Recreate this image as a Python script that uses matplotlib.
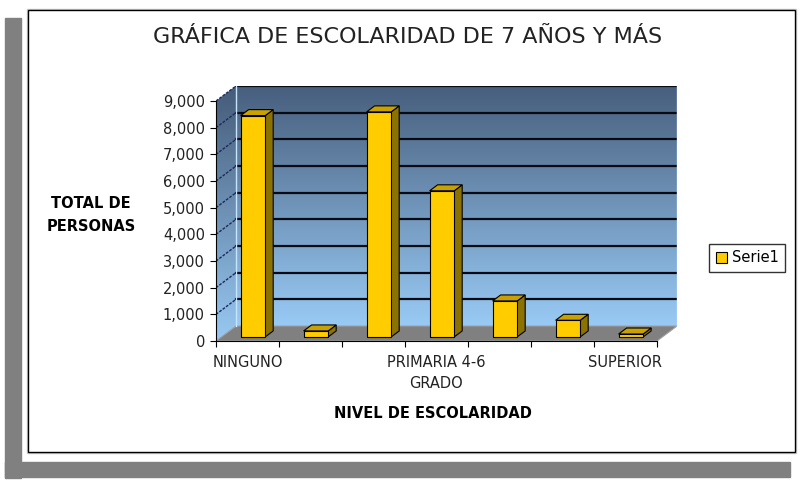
import numpy as np
import matplotlib.pyplot as plt
from matplotlib.patches import Polygon, Rectangle, Patch

# Data
categories = ["NINGUNO", "", "", "PRIMARIA 4-6\nGRADO", "", "", "SUPERIOR"]
values = [8300, 225, 8440, 5480, 1350, 625, 110]
y_ticks = list(range(0, 10000, 1000))
series_name = "Serie1"

title = "GRÁFICA DE ESCOLARIDAD DE 7 AÑOS Y MÁS"
x_title = "NIVEL DE ESCOLARIDAD"
y_title = "TOTAL DE\nPERSONAS"

W, H = 804, 482
fig = plt.figure(figsize=(W / 100, H / 100), dpi=100)
fig.patch.set_facecolor("white")


def fx(px):
    return px / W


def fy(py):
    return 1 - py / H


# gray shadow and chart frame
fig.patches.append(Rectangle((fx(5), fy(478)), fx(16), (478 - 18) / H,
                             transform=fig.transFigure, color="#808080", zorder=0))
fig.patches.append(Rectangle((fx(5), fy(477)), fx(785), 15 / H,
                             transform=fig.transFigure, color="#808080", zorder=0))
fig.patches.append(Rectangle((fx(27), fy(453)), fx(769), 444 / H, transform=fig.transFigure,
                             fill=False, ec="#c8c8c8", lw=1, zorder=1))
fig.patches.append(Rectangle((fx(28), fy(452)), fx(767), 442 / H, transform=fig.transFigure,
                             fill=False, ec="black", lw=1, zorder=1))

# 3D look: depth offset in pixels, converted to data units
n = len(values)
ymax = 9000
front_w, front_h = 441, 240
dpx, dpy = 20, 15
d = dpx / front_w * n
dy = dpy / front_h * ymax

ax = fig.add_axes([fx(216), fy(341), (front_w + dpx) / W, (front_h + dpy) / H])
ax.set_facecolor("none")

# gradient walls (dark slate at top, light sky blue at the floor)
grad = np.linspace(0, 1, 256).reshape(-1, 1, 1)
top_c = np.array([0.28, 0.37, 0.49])
bot_c = np.array([0.62, 0.82, 0.99])
img = top_c * (1 - grad) + bot_c * grad

back = Polygon([(d, dy), (n + d, dy), (n + d, ymax + dy), (d, ymax + dy)],
               closed=True, fc="none", ec="none")
side = Polygon([(0, 0), (d, dy), (d, ymax + dy), (0, ymax)],
               closed=True, fc="none", ec="none")
ax.add_patch(back)
ax.add_patch(side)
im1 = ax.imshow(img, extent=[0, n + d, 0, ymax + dy], aspect="auto", origin="upper", zorder=0)
im1.set_clip_path(back)
im2 = ax.imshow(img * 0.96, extent=[0, n + d, 0, ymax + dy], aspect="auto", origin="upper", zorder=0)
im2.set_clip_path(side)

# floor
ax.add_patch(Polygon([(0, 0), (n, 0), (n + d, dy), (d, dy)], closed=True,
                     fc="#808080", ec="#a0a0a0", lw=0.8, zorder=1))

# gridlines on back wall and left wall
for v in y_ticks[1:]:
    ax.plot([d, n + d], [v + dy, v + dy], color="#0a0a14", lw=1.6, zorder=1)
    ax.plot([0, d], [v, v + dy], color="#1c2a5c", lw=1, ls=(0, (2, 1)), zorder=1)
ax.plot([d, d], [dy, ymax + dy], color="#c8e4ff", lw=1, zorder=1)
ax.plot([n + d, n + d], [dy, ymax + dy], color="#c8e4ff", lw=1, zorder=1)

# bars
bw = 0.39
f0, f1 = 0.27, 0.67
for i, v in enumerate(values):
    x0 = i + 0.5 - bw / 2 + f0 * d
    x1 = x0 + bw
    y0 = f0 * dy
    ox, oy = (f1 - f0) * d, (f1 - f0) * dy
    ax.add_patch(Polygon([(x1, y0), (x1 + ox, y0 + oy), (x1 + ox, y0 + oy + v), (x1, y0 + v)],
                         closed=True, fc="#8c7200", ec="black", lw=0.8, zorder=3))
    ax.add_patch(Polygon([(x0, y0 + v), (x1, y0 + v), (x1 + ox, y0 + oy + v), (x0 + ox, y0 + oy + v)],
                         closed=True, fc="#c9a200", ec="black", lw=0.8, zorder=3))
    ax.add_patch(Rectangle((x0, y0), bw, v, fc="#ffcc00", ec="black", lw=0.8, zorder=4))

ax.set_xlim(0, n + d)
ax.set_ylim(0, ymax + dy)

for s in ["top", "right"]:
    ax.spines[s].set_visible(False)
ax.spines["left"].set_bounds(0, ymax)
ax.spines["bottom"].set_bounds(0, n)
ax.spines["left"].set_zorder(5)
ax.spines["bottom"].set_zorder(5)

ax.set_yticks(y_ticks)
ax.set_yticklabels([f"{v:,}" for v in y_ticks], fontsize=10.5, color="#222222")
ax.tick_params(axis="y", direction="out", length=4, pad=4)

ax.set_xticks(range(n + 1))
ax.set_xticklabels([])
ax.set_xticks([i + 0.5 for i in range(n)], minor=True)
ax.set_xticklabels(categories, minor=True, fontsize=10.5, color="#222222", va="top")
ax.tick_params(axis="x", which="major", direction="out", length=4)
ax.tick_params(axis="x", which="minor", length=0, pad=10)
for lab in ax.get_xticklabels(minor=True):
    lab.set_linespacing(1.5)

# titles
fig.text(fx(408), fy(37), title, fontsize=16, color="#222222", ha="center", va="center")
fig.text(fx(433), fy(413), x_title, fontsize=10.5, fontweight="bold", ha="center", va="center")
fig.text(fx(91), fy(215), y_title, fontsize=10.5, fontweight="bold", ha="center", va="center",
         linespacing=1.6)

leg = fig.legend(handles=[Patch(fc="#ffcc00", ec="black", lw=0.8, label=series_name)],
                 loc="center", bbox_to_anchor=(fx(747), fy(258)), fontsize=10.5,
                 frameon=True, fancybox=False, handlelength=0.8, handleheight=0.8,
                 handletextpad=0.3, borderpad=0.45)
leg.get_frame().set_edgecolor("black")
leg.get_frame().set_linewidth(1)

fig.savefig("out.png", dpi=100)
